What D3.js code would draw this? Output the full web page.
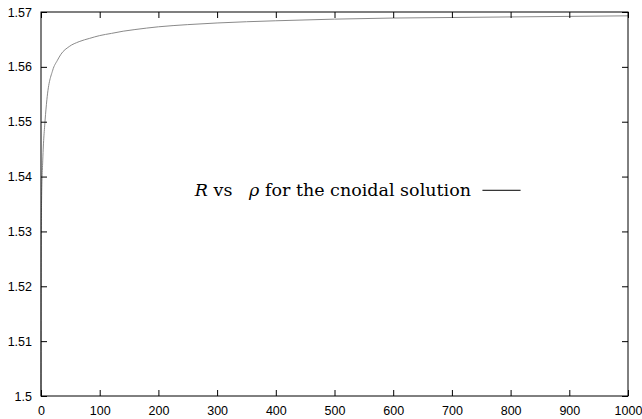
<!DOCTYPE html>
<html>
<head>
<meta charset="utf-8">
<script src="https://cdn.jsdelivr.net/npm/d3@7"></script>
<style>
  body { margin: 0; background: #fff; }
  svg { display: block; }
</style>
</head>
<body>
<script>
// R vs rho
var rhoValues = [0, 0.3, 1, 3, 7, 10, 20, 28, 34, 48, 65, 83, 100, 120, 140, 160, 200, 250, 300, 400, 500, 600, 700, 800, 900, 1000];
var rValues = [1.5, 1.525, 1.5357, 1.543, 1.5503, 1.554, 1.5594, 1.5612, 1.5623, 1.5637, 1.5646, 1.5652, 1.5657, 1.5661, 1.5665, 1.5668, 1.5673, 1.5677, 1.568, 1.5684, 1.5687, 1.5689, 1.569, 1.5691, 1.5692, 1.5693];
var xTicks = [0, 100, 200, 300, 400, 500, 600, 700, 800, 900, 1000];
var yTicks = [1.5, 1.51, 1.52, 1.53, 1.54, 1.55, 1.56, 1.57];

var svgWidth = 642;
var svgHeight = 419;
var margin = { top: 12, right: 14, bottom: 23, left: 41 };
var width = svgWidth - margin.left - margin.right;
var height = svgHeight - margin.top - margin.bottom;

var svg = d3.select("body").append("svg")
  .attr("width", svgWidth)
  .attr("height", svgHeight);

var chartGroup = svg.append("g")
  .attr("transform", `translate(${margin.left}, ${margin.top})`);

var xScale = d3.scaleLinear().domain([0, 1000]).range([0, width]);
var yScale = d3.scaleLinear().domain([1.5, 1.57]).range([height, 0]);

var data = rhoValues.map((d, i) => ({ rho: d, R: rValues[i] }));

// the curve
var line = d3.line()
  .x(d => xScale(d.rho))
  .y(d => yScale(d.R))
  .curve(d3.curveMonotoneX);

chartGroup.append("path")
  .datum(data)
  .attr("d", line)
  .attr("fill", "none")
  .attr("stroke", "#8a8a8a")
  .attr("stroke-width", 1);

// axes, ticks pointing inward, mirrored on top/right
var tickFont = "'Liberation Sans', Arial, sans-serif";

var xAxis = d3.axisBottom(xScale).tickValues(xTicks).tickSize(-6).tickPadding(10).tickFormat(d3.format("d"));
var xAxisTop = d3.axisTop(xScale).tickValues(xTicks).tickSize(-6).tickFormat("");
var yAxis = d3.axisLeft(yScale).tickValues(yTicks).tickSize(-6).tickPadding(9).tickFormat(d => d3.format("")(+d.toFixed(2)));
var yAxisRight = d3.axisRight(yScale).tickValues(yTicks).tickSize(-6).tickFormat("");

[
  chartGroup.append("g").attr("transform", `translate(0, ${height})`).call(xAxis),
  chartGroup.append("g").call(xAxisTop),
  chartGroup.append("g").call(yAxis),
  chartGroup.append("g").attr("transform", `translate(${width}, 0)`).call(yAxisRight)
].forEach(function(g) {
  g.select(".domain").remove();
  g.selectAll(".tick line").attr("stroke", "#000").attr("stroke-width", 1);
  g.selectAll(".tick text")
    .style("font-family", tickFont)
    .style("font-size", "12.5px")
    .attr("fill", "#000");
});

chartGroup.append("rect")
  .attr("width", width)
  .attr("height", height)
  .attr("fill", "none")
  .attr("stroke", "#000")
  .attr("stroke-width", 1);

// key
var key = chartGroup.append("text")
  .attr("x", xScale(262))
  .attr("y", yScale(1.5364))
  .style("font-family", "'DejaVu Serif', serif")
  .style("font-size", "17.5px")
  .style("white-space", "pre")
  .attr("fill", "#000");
key.append("tspan").style("font-style", "italic").text("R");
key.append("tspan").text(" vs   ");
key.append("tspan").style("font-style", "italic").text("ρ");
key.append("tspan").text(" for the cnoidal solution");

chartGroup.append("line")
  .attr("x1", xScale(752))
  .attr("x2", xScale(817))
  .attr("y1", yScale(1.5375))
  .attr("y2", yScale(1.5375))
  .attr("stroke", "#000")
  .attr("stroke-width", 1);
</script>
</body>
</html>
